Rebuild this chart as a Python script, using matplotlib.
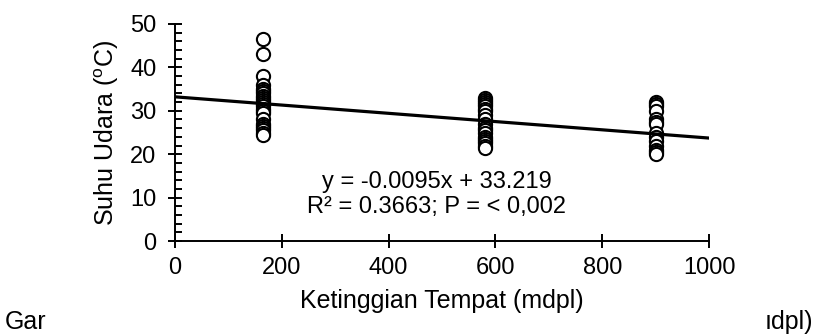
import matplotlib

matplotlib.use("Agg")
import matplotlib.pyplot as plt
import numpy as np
from matplotlib.ticker import MultipleLocator

# data
elev_low = 165
temp_low = [46.5, 43.0, 38.0, 36.0, 35.0, 34.5, 34.0, 33.5, 33.0, 32.5, 32.0,
            31.5, 31.0, 30.5, 30.0, 29.5, 28.0, 27.0, 26.5, 26.0, 25.5, 25.0, 24.5]
elev_mid = 580
temp_mid = [33.0, 32.5, 32.0, 31.5, 31.0, 30.5, 30.0, 29.0, 28.0, 27.0, 26.0,
            25.5, 25.0, 24.0, 23.5, 23.0, 22.5, 22.0, 21.5]
elev_high = 900
temp_high = [32.0, 31.5, 31.0, 30.0, 28.0, 27.5, 27.0, 25.0, 24.0, 23.0, 22.0,
             21.0, 20.5, 20.0]
slope = -0.0095
intercept = 33.219
x_ticks = [0, 200, 400, 600, 800, 1000]
y_ticks = [0, 10, 20, 30, 40, 50]

plt.rcParams.update(
    {
        "font.family": ["Liberation Sans", "DejaVu Sans"],
        "font.size": 17,
        "mathtext.fontset": "custom",
        "mathtext.rm": "Liberation Sans",
        "axes.linewidth": 1.4,
    }
)

fig = plt.figure(figsize=(8.15, 3.36), dpi=100)
ax = fig.add_axes([0.2147, 0.2827, 0.6553, 0.6459])

x_all = np.concatenate([
    np.full(len(temp_low), elev_low),
    np.full(len(temp_mid), elev_mid),
    np.full(len(temp_high), elev_high),
])
y_all = np.concatenate([temp_low, temp_mid, temp_high])
ax.plot(x_all, y_all, linestyle="none", marker="o", markersize=9.5,
        markerfacecolor="white", markeredgecolor="black", markeredgewidth=1.5,
        zorder=2)

x_line = np.array([0, 1000])
ax.plot(x_line, slope * x_line + intercept, color="black", linewidth=2.3, zorder=3)

ax.text(490, 13.6, "y = -0.0095x + 33.219", ha="center", va="center", fontsize=17)
ax.text(490, 7.8, "R² = 0.3663; P = < 0,002", ha="center", va="center", fontsize=17)

ax.set_xlim(0, 1000)
ax.set_ylim(0, 50)
ax.set_xticks(x_ticks)
ax.set_yticks(y_ticks)
ax.yaxis.set_minor_locator(MultipleLocator(2))
for side in ["top", "right"]:
    ax.spines[side].set_visible(False)
ax.tick_params(axis="both", which="major", direction="inout", length=10.5, width=1.4,
               labelsize=17, colors="black")
ax.tick_params(axis="x", which="major", pad=6)
ax.tick_params(axis="y", which="major", pad=8)
ax.tick_params(axis="y", which="minor", direction="in", length=5, width=1.4)

ax.set_xlabel("Ketinggian Tempat (mdpl)", fontsize=18)
ax.xaxis.set_label_coords(0.5, -0.275)
ax.xaxis.label.set_va("center")
ax.set_ylabel("Suhu Udara ($^{\\mathrm{o}}$C)", fontsize=18)
ax.yaxis.set_label_coords(-0.128, 0.5)
ax.yaxis.label.set_va("center")

# caption remnants peeking out behind the chart
fig.text(0.006, 0.02, "Gar", fontsize=18, ha="left", va="baseline")
fig.text(0.998, 0.02, "ıdpl)", fontsize=18, ha="right", va="baseline")

fig.savefig("out.png", dpi=100, facecolor="white")
